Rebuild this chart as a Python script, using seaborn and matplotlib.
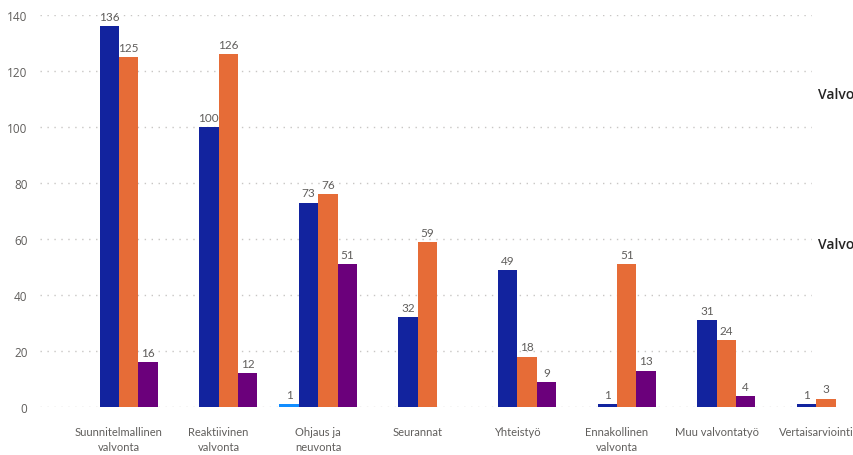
import matplotlib
matplotlib.use("Agg")
import matplotlib.pyplot as plt
import seaborn as sns
import pandas as pd
import numpy as np

categories = ["Suunnitelmallinen\nvalvonta", "Reaktiivinen\nvalvonta", "Ohjaus ja\nneuvonta",
              "Seurannat", "Yhteistyö", "Ennakollinen\nvalvonta", "Muu valvontatyö",
              "Vertaisarviointi"]
series_names = ["Sarja 1", "Sarja 2", "Sarja 3", "Sarja 4"]
s1 = [None, None, 1, None, None, None, None, None]
s2 = [136, 100, 73, 32, 49, 1, 31, 1]
s3 = [125, 126, 76, 59, 18, 51, 24, 3]
s4 = [16, 12, 51, None, 9, 13, 4, None]
colors = ["#118DFF", "#12239E", "#E66C37", "#6B007B"]
yticks = [0, 20, 40, 60, 80, 100, 120, 140]

rows = []
for name, vals in zip(series_names, [s1, s2, s3, s4]):
    for c, v in zip(categories, vals):
        if v is not None:
            rows.append({"cat": c, "series": name, "value": v})
df = pd.DataFrame(rows)

sns.set_theme(style="white")
plt.rcParams["font.family"] = ["Open Sans", "DejaVu Sans"]

fig = plt.figure(figsize=(8.54, 4.56), dpi=100)
ax = fig.add_axes([40/854, 1-408/456, (812-40)/854, (408-16)/456])

sns.barplot(data=df, x="cat", y="value", hue="series", order=categories,
            hue_order=series_names, palette=colors, width=0.78, ax=ax,
            legend=False, saturation=1, edgecolor="none", linewidth=0)

ax.set_xlim(-0.793, 6.958)
ax.set_ylim(0, 140)
ax.set_yticks(yticks)
ax.grid(axis="y", color="#C8C6C4", linestyle=(0, (1, 4)), linewidth=1)
ax.grid(axis="x", visible=False)
ax.set_axisbelow(True)
for sp in ax.spines.values():
    sp.set_visible(False)
ax.tick_params(axis="y", length=0, colors="#605E5C", labelsize=8.5, pad=9)
ax.set_xticks([])
ax.set_xlabel("")
ax.set_ylabel("")

for i, c in enumerate(categories):
    ax.annotate(c, xy=(i, 0), xycoords=("data", "axes fraction"),
                xytext=(0, -14), textcoords="offset points",
                ha="center", va="top", fontsize=8, color="#605E5C",
                family=["Lato", "DejaVu Sans"], linespacing=1.45,
                annotation_clip=False)

for p in ax.patches:
    p.set_clip_on(False)
for cont in ax.containers:
    ax.bar_label(cont, fmt="%d", padding=3, fontsize=8.5, color="#605E5C",
                 annotation_clip=False, family=["Lato", "DejaVu Sans"])

fig.text(818/854, 1-95/456, "Valvo", fontsize=10, fontweight="semibold",
         color="#252423", va="center", ha="left")
fig.text(818/854, 1-245/456, "Valvo", fontsize=10, fontweight="semibold",
         color="#252423", va="center", ha="left")

fig.savefig("out.png", dpi=100)
